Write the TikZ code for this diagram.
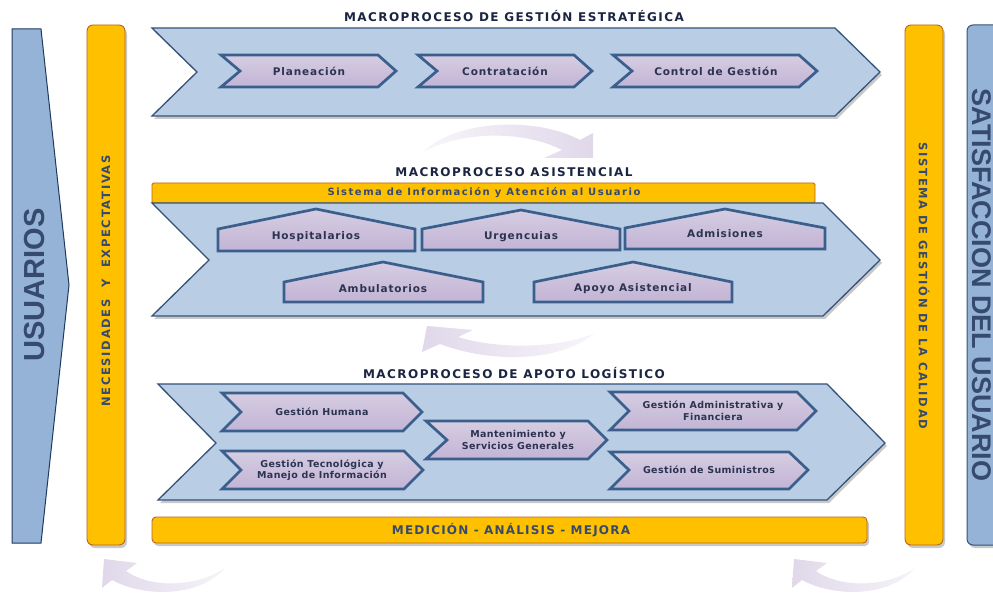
\documentclass[tikz,border=0pt]{standalone}
\usepackage{fontspec}
\setmainfont{DejaVu Sans}
\newfontfamily\ttlfont[LetterSpace=12]{DejaVu Sans}
\newfontfamily\labfont[LetterSpace=8]{DejaVu Sans}
\newfontfamily\smlabfont[LetterSpace=4]{DejaVu Sans}
\newfontfamily\barfont[LetterSpace=10]{DejaVu Sans}
\newfontfamily\widebarfont[LetterSpace=15]{DejaVu Sans}
\newfontfamily\bigsans{Liberation Sans}
\usetikzlibrary{shadows}

\definecolor{chevfill}{HTML}{B9CDE5}
\definecolor{chevline}{HTML}{34537A}
\definecolor{lavtop}{HTML}{D6CDE2}
\definecolor{lavbottom}{HTML}{C2B4D5}
\definecolor{lavline}{HTML}{3A5F8C}
\definecolor{usrfill}{HTML}{95B3D7}
\definecolor{usrline}{HTML}{1F3A5F}
\definecolor{amber}{HTML}{FFC000}
\definecolor{amberline}{HTML}{B8651B}
\definecolor{ink}{HTML}{1B2542}
\definecolor{labink}{HTML}{2C3350}
\definecolor{slate}{HTML}{364A6E}
\definecolor{swirl}{HTML}{E0D8EA}

\tikzset{
  softshadow/.style={drop shadow={shadow xshift=2pt, shadow yshift=-3pt, opacity=0.3, fill=black!70}},
  bigchev/.style={fill=chevfill, draw=chevline, line width=1.3pt, line join=miter, softshadow},
  subshape/.style={top color=lavtop, bottom color=lavbottom, draw=lavline, line width=2.7pt, line join=miter},
  amberbar/.style={fill=amber, draw=amberline, line width=0.9pt, rounded corners=4pt, softshadow},
  bluebar/.style={fill=usrfill, draw=usrline, line width=1pt},
  title/.style={font=\ttlfont\bfseries\fontsize{12}{12}\selectfont, text=ink, inner sep=0pt},
  lab/.style={font=\labfont\bfseries\fontsize{10.5}{12}\selectfont, text=labink, align=center, inner sep=0pt},
  sublab/.style={font=\smlabfont\bfseries\fontsize{9.5}{11.5}\selectfont, text=labink, align=center, inner sep=0pt},
  bartext/.style={font=\widebarfont\bfseries\fontsize{10}{10}\selectfont, text=slate, inner sep=0pt},
  sidetext/.style={font=\widebarfont\bfseries\fontsize{11.5}{11.5}\selectfont, text=slate, inner sep=0pt},
  bigtext/.style={font=\bigsans\bfseries\fontsize{27}{27}\selectfont, text=slate, inner sep=0pt},
}

\begin{document}
\begin{tikzpicture}[x=1pt,y=-1pt]
\useasboundingbox (0,0) rectangle (993,593);
\clip (0,0) rectangle (993,593);

% ---- curved circulation arrows (behind everything) ----
\shade[left color=swirl!25, right color=swirl]
  (423,152) .. controls (455,120) and (535,116) .. (580,140) -- (593,133) -- (593,158) -- (544,158) -- (562,150)
  .. controls (525,131) and (465,130) .. cycle;
\shade[left color=swirl, right color=swirl!25]
  (595,333) .. controls (560,363) and (490,363) .. (440,344) -- (422,352) -- (427,326) -- (473,330) -- (458,337)
  .. controls (500,350) and (560,348) .. cycle;
\shade[left color=swirl, right color=swirl!30]
  (225,568) .. controls (200,597) and (145,598) .. (112,580) -- (102,588) -- (104,559) -- (137,563) -- (126,571)
  .. controls (150,588) and (195,588) .. cycle;
\shade[left color=swirl, right color=swirl!30]
  (915,568) .. controls (890,597) and (835,598) .. (802,580) -- (792,588) -- (794,559) -- (827,563) -- (816,571)
  .. controls (840,588) and (885,588) .. cycle;

% ---- side columns ----
\path[bluebar, line join=miter] (12,29) -- (41,29) -- (69,285) -- (41,543) -- (12,543) -- cycle;
\node[bigtext, font=\bigsans\bfseries\fontsize{29}{29}\selectfont, rotate=90] (usuarios) at (35,285) {USUARIOS};

\path[amberbar, rounded corners=6pt] (87,25) rectangle (125,545);
\node[sidetext, rotate=90] (necesidades) at (106,281) {NECESIDADES\ \ Y\ \ EXPECTATIVAS};

\path[amberbar, rounded corners=6pt] (905,25) rectangle (943,545);
\node[sidetext, rotate=-90] (calidad) at (924,286) {SISTEMA DE GESTIÓN DE LA CALIDAD};

\path[bluebar, draw=chevline, rounded corners=6pt, softshadow] (967,25) rectangle (1010,545);
\node[bigtext, rotate=-90] (satisfaccion) at (982,285) {SATISFACCION DEL USUARIO};

% ---- strategic macroprocess ----
\node[title] (t1) at (514,16) {MACROPROCESO DE GESTIÓN ESTRATÉGICA};
\path[bigchev] (152,28) -- (835,28) -- (880,72) -- (835,116) -- (152,116) -- (197,72) -- cycle;
\path[subshape] (221,55) -- (378,55) -- (396,71) -- (378,87) -- (221,87) -- (240,71) -- cycle;
\node[lab] (planeacion) at (309,71) {Planeación};
\path[subshape] (418,55) -- (574,55) -- (592,71) -- (574,87) -- (418,87) -- (437,71) -- cycle;
\node[lab] (contratacion) at (505,71) {Contratación};
\path[subshape] (613,55) -- (799,55) -- (817,71) -- (799,87) -- (613,87) -- (632,71) -- cycle;
\node[lab] (control) at (716,71) {Control de Gestión};

% ---- care macroprocess ----
\node[title] (t2) at (514,172) {MACROPROCESO ASISTENCIAL};
\path[fill=amber, draw=amberline, line width=0.9pt, rounded corners=1.5pt] (152,183) rectangle (815,203);
\node[bartext] (sistema) at (484,193) {Sistema de Información y Atención al Usuario};
\path[bigchev] (152,203) -- (823,203) -- (880,260) -- (823,316) -- (152,316) -- (209,260) -- cycle;
\path[subshape] (218,229) -- (316,209) -- (415,229) -- (415,251) -- (218,251) -- cycle;
\node[lab] (hosp) at (316,237) {Hospitalarios};
\path[subshape] (422,229) -- (521,210) -- (620,229) -- (620,250) -- (422,250) -- cycle;
\node[lab] (urg) at (521,237) {Urgencuias};
\path[subshape] (625,228) -- (725,209) -- (825,228) -- (825,249) -- (625,249) -- cycle;
\node[lab] (adm) at (725,234) {Admisiones};
\path[subshape] (284,282) -- (383,262) -- (483,282) -- (483,302) -- (284,302) -- cycle;
\node[lab] (amb) at (383,289) {Ambulatorios};
\path[subshape] (534,282) -- (633,262) -- (732,282) -- (732,302) -- (534,302) -- cycle;
\node[lab] (apoyo) at (633,289) {Apoyo Asistencial};

% ---- logistic support macroprocess ----
\node[title] (t3) at (514,373) {MACROPROCESO DE APOTO LOGÍSTICO};
\path[bigchev] (158,384) -- (827,384) -- (885,443) -- (827,500) -- (158,500) -- (216,443) -- cycle;
\path[subshape] (222,393) -- (403,393) -- (422,412) -- (403,431) -- (222,431) -- (241,412) -- cycle;
\node[sublab] (humana) at (322,412) {Gestión Humana};
\path[subshape] (222,451) -- (404,451) -- (423,470) -- (404,489) -- (222,489) -- (241,470) -- cycle;
\node[sublab] (tecno) at (322,470) {Gestión Tecnológica y\\Manejo de Información};
\path[subshape] (426,421) -- (588,421) -- (607,440) -- (588,459) -- (426,459) -- (447,440) -- cycle;
\node[sublab] (mant) at (518,440) {Mantenimiento y\\Servicios Generales};
\path[subshape] (610,392) -- (797,392) -- (816,411) -- (797,430) -- (610,430) -- (629,411) -- cycle;
\node[sublab] (admfin) at (713,411) {Gestión Administrativa y\\Financiera};
\path[subshape] (610,452) -- (789,452) -- (808,470) -- (789,489) -- (610,489) -- (629,470) -- cycle;
\node[sublab] (sumin) at (709,470) {Gestión de Suministros};

% ---- measurement bar ----
\path[amberbar] (152,517) rectangle (867,543);
\node[bartext, font=\barfont\bfseries\fontsize{12}{12}\selectfont] (medicion) at (511,530) {MEDICIÓN - ANÁLISIS - MEJORA};
\end{tikzpicture}
\end{document}
